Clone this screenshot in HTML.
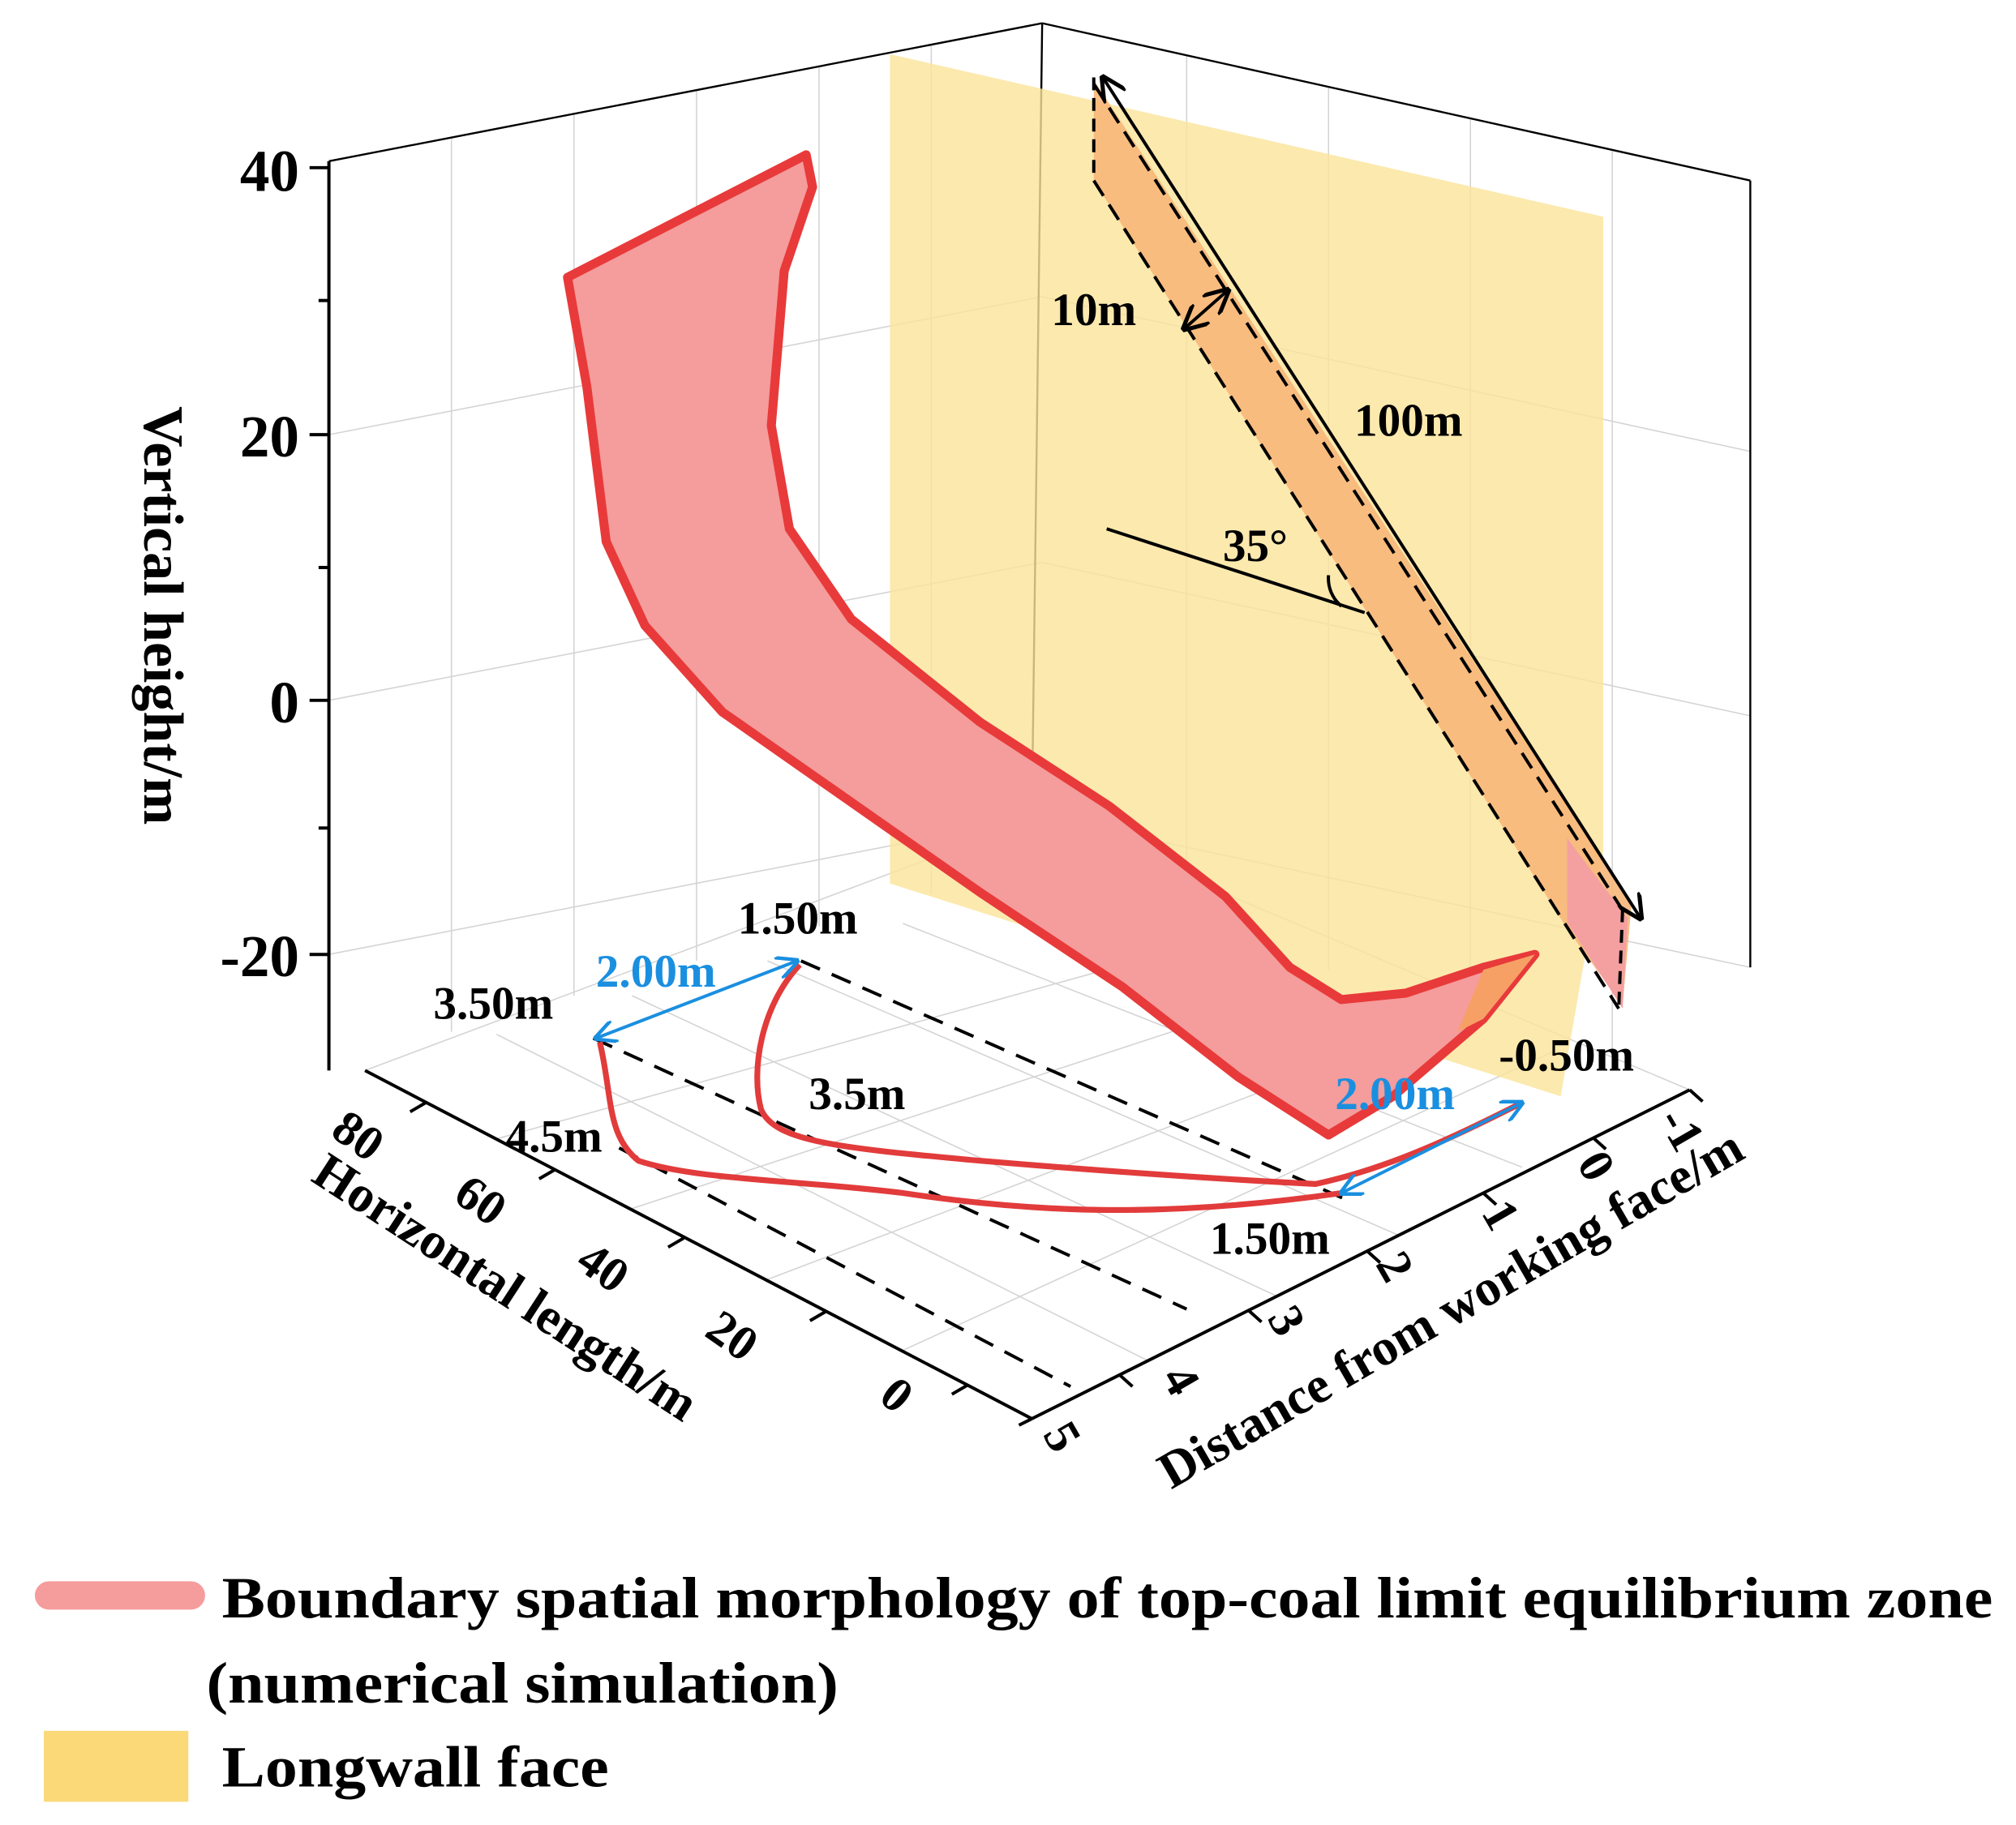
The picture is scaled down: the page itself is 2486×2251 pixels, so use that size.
<!DOCTYPE html>
<html><head><meta charset="utf-8"><style>
html,body{margin:0;padding:0;background:#fff;}
svg{display:block;}
text{font-family:"Liberation Serif",serif;font-weight:bold;fill:#000;}
</style></head><body>
<svg width="2486" height="2251" viewBox="0 0 1563 1415" preserveAspectRatio="none" xmlns="http://www.w3.org/2000/svg">
<defs>
<marker id="ab" viewBox="0 0 10 10" refX="9" refY="5" markerWidth="7" markerHeight="7" orient="auto-start-reverse"><path d="M0,0 L10,5 L0,10" fill="none" stroke="#1a8fe0" stroke-width="1.6"/></marker>
<marker id="ak" viewBox="0 0 10 10" refX="9" refY="5" markerWidth="8" markerHeight="8" orient="auto-start-reverse"><path d="M0,0 L10,5 L0,10" fill="none" stroke="#000" stroke-width="1.6"/></marker>
</defs>
<g stroke="#d4d4d4" stroke-width="1" fill="none">
<line x1="350" y1="107" x2="350" y2="800"/><line x1="445" y1="88" x2="445" y2="772"/><line x1="540" y1="70" x2="540" y2="745"/><line x1="635" y1="52" x2="635" y2="718"/><line x1="722" y1="35" x2="722" y2="693"/>
<line x1="255" y1="337" x2="808" y2="230"/><line x1="255" y1="543" x2="808" y2="436"/><line x1="255" y1="740" x2="808" y2="633"/>
<line x1="920" y1="43" x2="920" y2="720"/><line x1="1030" y1="68" x2="1030" y2="752"/><line x1="1140" y1="92" x2="1140" y2="785"/><line x1="1250" y1="117" x2="1250" y2="815"/>
<line x1="808" y1="230" x2="1357" y2="350"/><line x1="808" y1="436" x2="1357" y2="555"/><line x1="808" y1="633" x2="1357" y2="750"/>
<line x1="385" y1="883" x2="900" y2="740"/><line x1="490" y1="937" x2="1000" y2="770"/><line x1="595" y1="992" x2="1100" y2="800"/><line x1="700" y1="1047" x2="1205" y2="815"/>
<line x1="385" y1="802" x2="890" y2="1055"/><line x1="490" y1="772" x2="990" y2="1005"/><line x1="595" y1="745" x2="1085" y2="958"/><line x1="700" y1="716" x2="1180" y2="905"/><line x1="283" y1="830" x2="808" y2="633"/><line x1="808" y1="633" x2="1310" y2="845"/>
</g>
<g stroke="#000" stroke-width="1.5" fill="none">
<line x1="255" y1="125" x2="808" y2="18"/><line x1="808" y1="18" x2="1357" y2="140"/><line x1="808" y1="18" x2="800" y2="633"/><line x1="1357" y1="140" x2="1357" y2="750"/>
</g>
<polygon points="690,42 1243,168 1243,660 1210,850 690,685" fill="#fbe39a" opacity="0.8"/>
<polygon points="848,62 1265,700 1258,780 1215,720 848,140" fill="#f7b77a" opacity="0.9"/>
<polygon points="1215,650 1262,712 1258,782 1215,715" fill="#f4a0a0"/>
<g stroke="#000" stroke-width="2.5" fill="none">
<line x1="855" y1="60" x2="1272" y2="712" marker-start="url(#ak)" marker-end="url(#ak)"/>
<line x1="848" y1="65" x2="1262" y2="712" stroke-dasharray="14,8"/>
<line x1="848" y1="140" x2="1255" y2="782" stroke-dasharray="14,8"/>
<line x1="848" y1="60" x2="848" y2="140" stroke-dasharray="10,6"/>
<line x1="1258" y1="705" x2="1255" y2="782" stroke-dasharray="10,6"/>
<line x1="918" y1="255" x2="952" y2="225" marker-start="url(#ak)" marker-end="url(#ak)"/>
<line x1="858" y1="410" x2="1058" y2="475"/>
<path d="M1030,446 A28,28 0 0 0 1040,470"/>
</g>
<path d="M440,215 L625,120 L630,145 L608,210 L598,330 L612,410 L660,480 L760,560 L860,625 L950,695 L1000,750 L1040,775 L1090,770 L1150,750 L1190,740 L1150,790 L1080,850 L1030,880 L960,835 L870,765 L760,692 L660,622 L560,552 L500,485 L470,420 L455,300 Z" fill="#f59c9c" stroke="#e83a3a" stroke-width="7" stroke-linejoin="round"/>
<path d="M1150,752 L1190,740 L1150,790 L1130,800 Z" fill="#f7a066"/>
<g stroke="#000" stroke-width="2.5" stroke-dasharray="16,10" fill="none">
<line x1="621" y1="745" x2="1048" y2="932"/>
<line x1="460" y1="805" x2="920" y2="1015"/>
<line x1="590" y1="870" x2="1000" y2="1050" opacity="0"/>
<line x1="480" y1="890" x2="830" y2="1075"/>
</g>
<g stroke="#e23b3b" stroke-width="4.5" fill="none">
<path d="M620,748 C590,780 582,830 590,860 C600,885 650,890 760,900 C880,910 960,915 1020,918 C1080,905 1130,880 1180,855"/>
<path d="M465,808 C475,850 470,880 495,900 C540,915 620,915 700,925 C800,940 900,945 1040,925"/>
</g>
<line x1="462" y1="805" x2="618" y2="745" stroke="#1a8fe0" stroke-width="2.5" marker-start="url(#ab)" marker-end="url(#ab)"/>
<line x1="1040" y1="925" x2="1180" y2="855" stroke="#1a8fe0" stroke-width="2.5" marker-start="url(#ab)" marker-end="url(#ab)"/>
<g stroke="#000" stroke-width="2.5" fill="none">
<line x1="255" y1="125" x2="255" y2="830"/>
<line x1="283" y1="830" x2="800" y2="1100"/>
<line x1="800" y1="1100" x2="1310" y2="845"/>
<line x1="255" y1="130" x2="240" y2="130"/><line x1="255" y1="337" x2="240" y2="337"/><line x1="255" y1="543" x2="240" y2="543"/><line x1="255" y1="740" x2="240" y2="740"/>
<line x1="255" y1="233" x2="247" y2="233"/><line x1="255" y1="440" x2="247" y2="440"/><line x1="255" y1="642" x2="247" y2="642"/>
<line x1="330" y1="855" x2="318" y2="862"/><line x1="430" y1="907" x2="418" y2="914"/><line x1="530" y1="960" x2="518" y2="967"/><line x1="640" y1="1017" x2="628" y2="1024"/><line x1="750" y1="1074" x2="738" y2="1081"/>
<line x1="800" y1="1100" x2="790" y2="1105"/>
<line x1="868" y1="1066" x2="878" y2="1075"/><line x1="968" y1="1016" x2="978" y2="1025"/><line x1="1060" y1="970" x2="1070" y2="979"/><line x1="1150" y1="925" x2="1160" y2="934"/><line x1="1235" y1="882" x2="1245" y2="891"/><line x1="1310" y1="845" x2="1320" y2="854"/>
</g>
<g font-size="46">
<text x="232" y="148" text-anchor="end">40</text>
<text x="232" y="354" text-anchor="end">20</text>
<text x="232" y="560" text-anchor="end">0</text>
<text x="232" y="757" text-anchor="end">-20</text>
</g>
<g font-size="38">
<text transform="translate(255,880) rotate(35)">80</text>
<text transform="translate(350,930) rotate(35)">60</text>
<text transform="translate(445,982) rotate(35)">40</text>
<text transform="translate(545,1035) rotate(35)">20</text>
<text transform="translate(680,1085) rotate(40)">0</text>
<text transform="translate(808,1112) rotate(60)">5</text>
<text transform="translate(900,1068) rotate(60)">4</text>
<text transform="translate(982,1022) rotate(60)">3</text>
<text transform="translate(1066,980) rotate(60)">2</text>
<text transform="translate(1148,940) rotate(60)">1</text>
<text transform="translate(1222,902) rotate(60)">0</text>
<text transform="translate(1285,868) rotate(60)">-1</text>
</g>
<text transform="translate(112,315) rotate(90)" font-size="44">Vertical height/m</text>
<text transform="translate(240,915) rotate(33)" font-size="40">Horizontal length/m</text>
<text transform="translate(908,1155) rotate(-30)" font-size="40">Distance from working face/m</text>
<g font-size="36">
<text x="572" y="724">1.50m</text>
<text x="336" y="790">3.50m</text>
<text x="392" y="893">4.5m</text>
<text x="627" y="860">3.5m</text>
<text x="938" y="972">1.50m</text>
<text x="1162" y="830">-0.50m</text>
<text x="815" y="252">10m</text>
<text x="1050" y="338">100m</text>
<text x="948" y="435">35°</text>
<text x="462" y="765" style="fill:#1a8fe0">2.00m</text>
<text x="1035" y="860" style="fill:#1a8fe0">2.00m</text>
</g>
<line x1="38" y1="1237" x2="148" y2="1237" stroke="#f59c9c" stroke-width="22" stroke-linecap="round"/>
<text x="172" y="1254" font-size="45" textLength="1373" lengthAdjust="spacingAndGlyphs">Boundary spatial morphology of top-coal limit equilibrium zone</text>
<text x="160" y="1320" font-size="45" textLength="490" lengthAdjust="spacingAndGlyphs">(numerical simulation)</text>
<rect x="34" y="1342" width="112" height="55" fill="#fbd978"/>
<text x="172" y="1385" font-size="45" textLength="300" lengthAdjust="spacingAndGlyphs">Longwall face</text>
</svg>
</body></html>
